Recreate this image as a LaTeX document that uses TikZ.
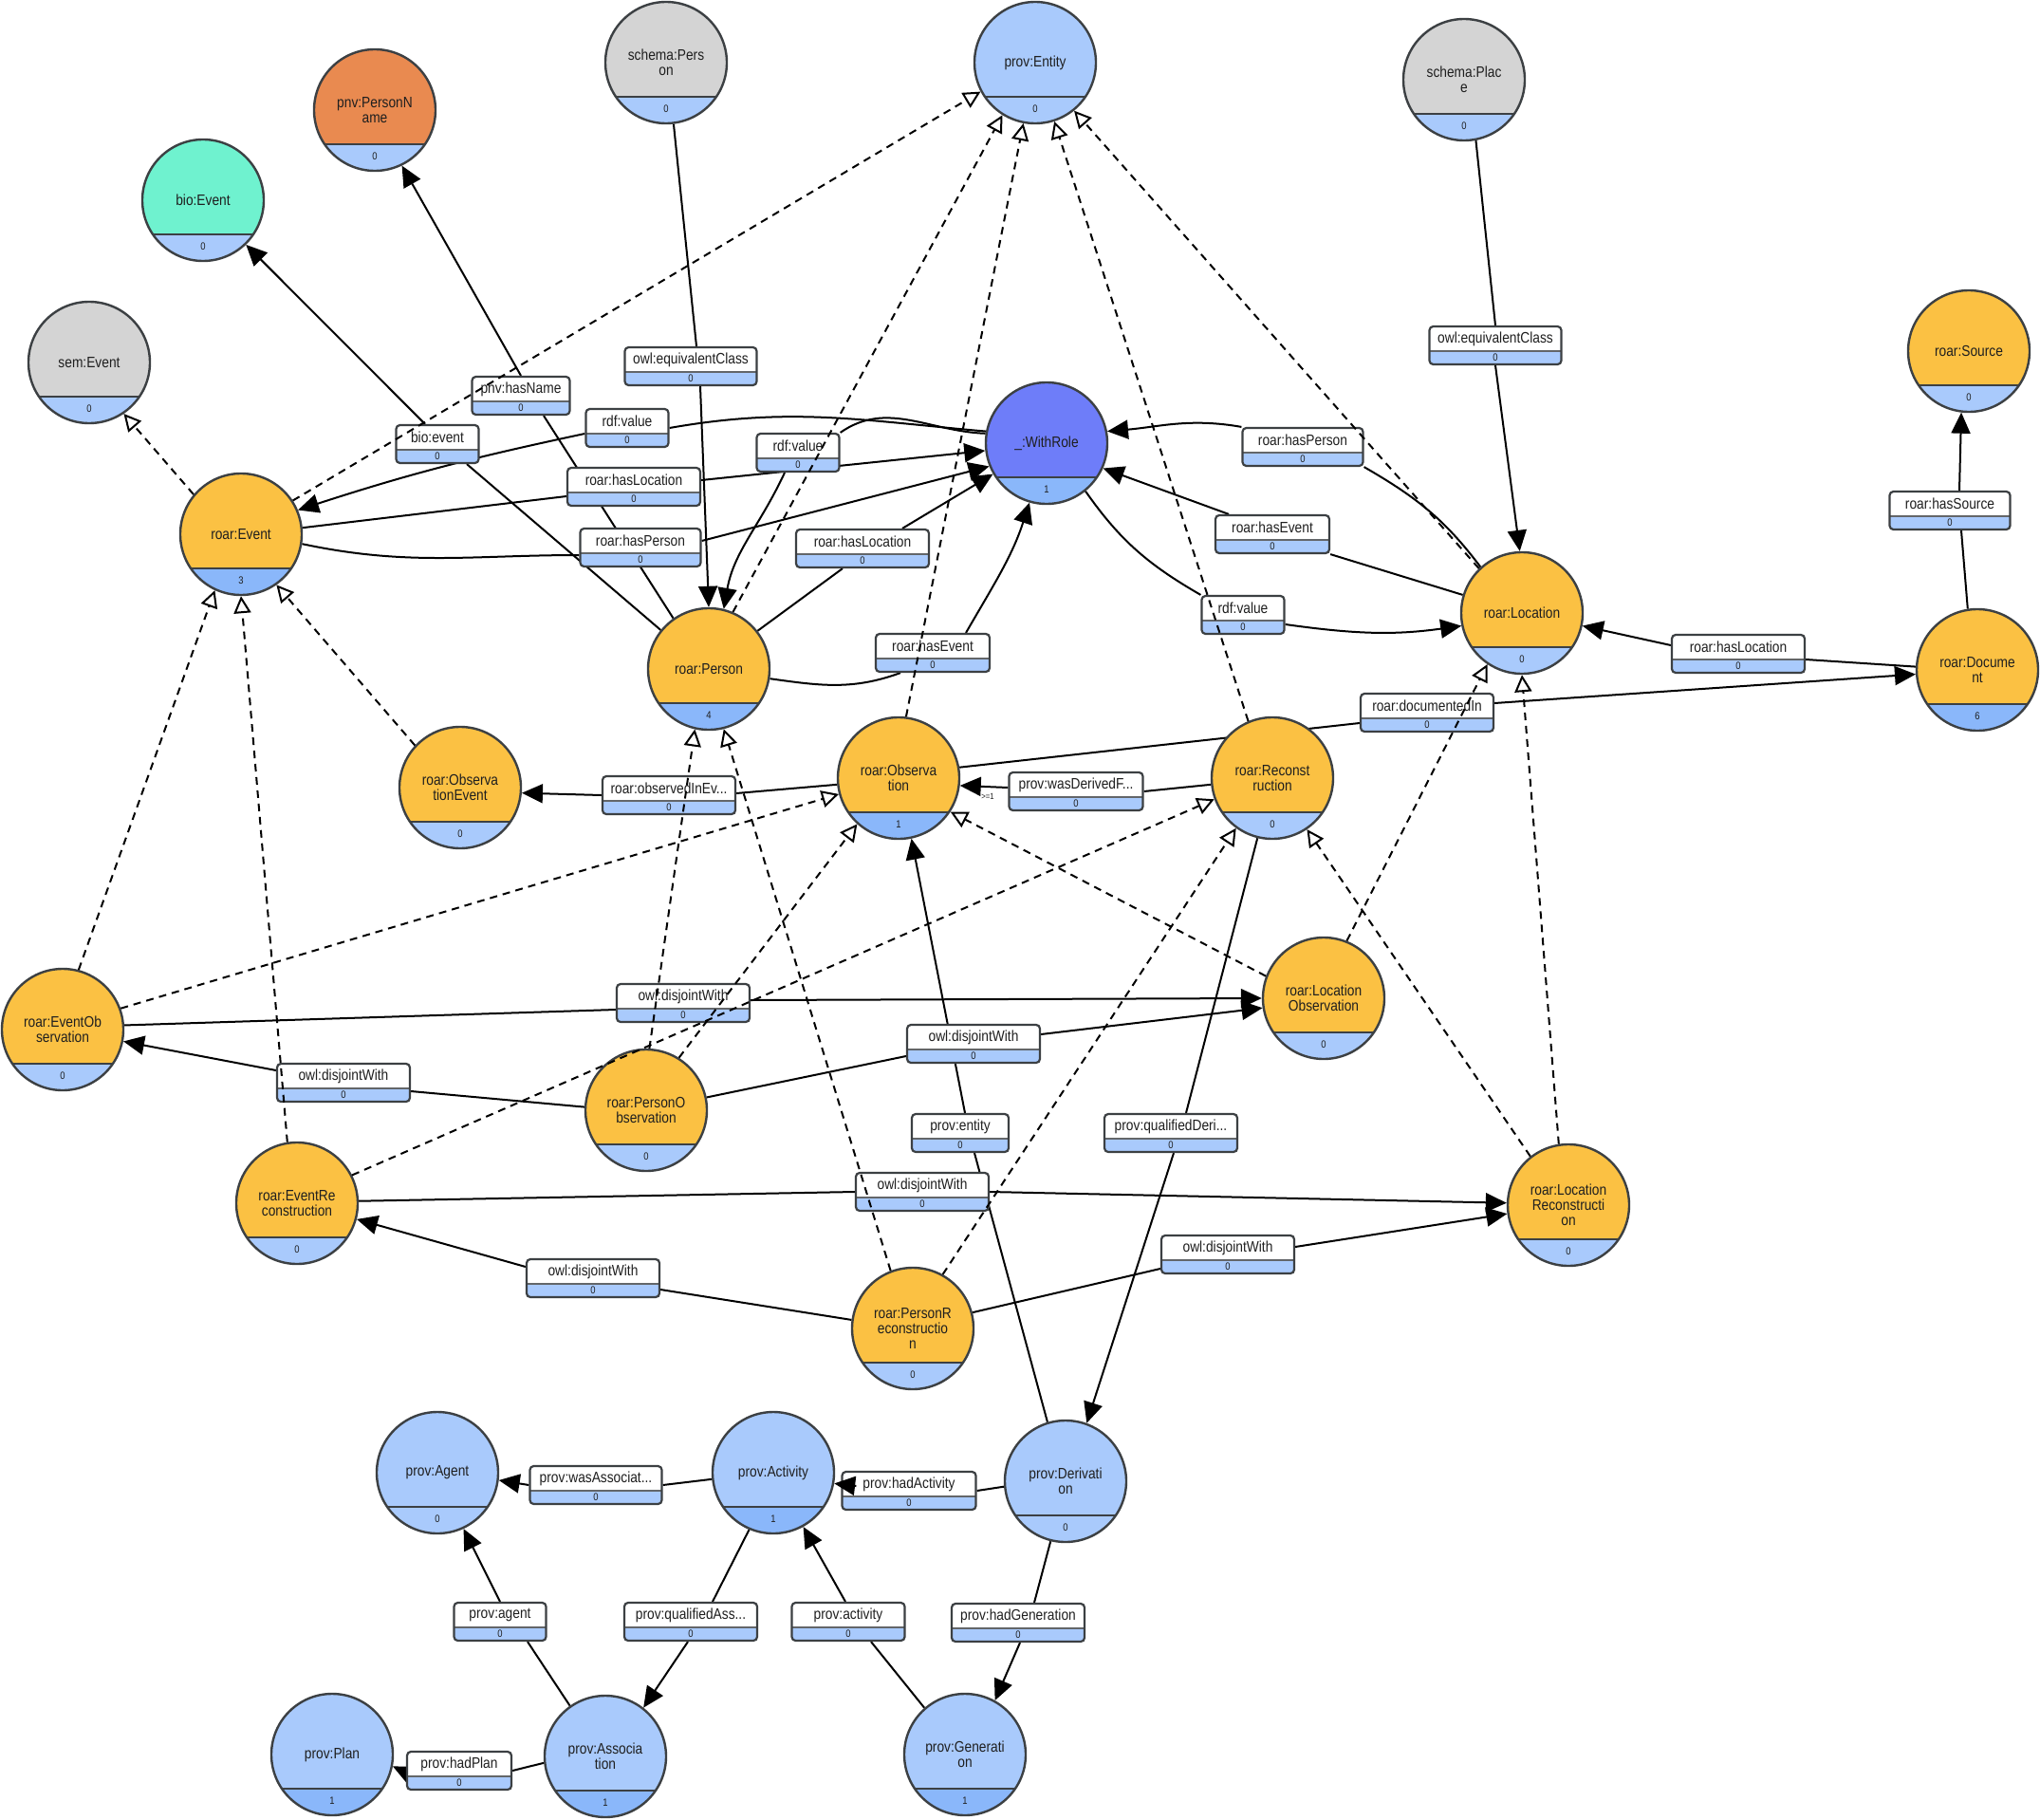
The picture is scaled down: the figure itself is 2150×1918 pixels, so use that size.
\documentclass[tikz,border=0pt]{standalone}
\usepackage{fontspec}
\setmainfont{Liberation Sans}[FakeStretch=0.86]
\usetikzlibrary{arrows.meta,calc}

\definecolor{ol}{HTML}{3C4043}
\definecolor{txt}{HTML}{1F1F1F}
\definecolor{cyellow}{HTML}{FBC143}
\definecolor{cblue}{HTML}{A9CAFC}
\definecolor{bandlight}{HTML}{A9CAFC}
\definecolor{banddark}{HTML}{8AB7FA}
\definecolor{corange}{HTML}{E98A50}
\definecolor{cteal}{HTML}{6FF2CF}
\definecolor{cgrey}{HTML}{D4D4D4}
\definecolor{cviolet}{HTML}{6E7DF9}

\newcommand\lblfont{\fontsize{16}{16}\selectfont}
\newcommand\cntfont{\fontsize{11}{11}\selectfont}

\pgfdeclarelayer{bg}
\pgfdeclarelayer{edgelayer}
\pgfdeclarelayer{toplayer}
\pgfsetlayers{bg,edgelayer,main,toplayer}

\tikzset{
  clsnode/.style={circle, minimum size=128pt, inner sep=0pt, draw=ol, line width=2.4pt,
    font=\lblfont, text=txt, align=center},
  propshape/.style={rectangle, rounded corners=4pt, draw=ol, line width=2.2pt, fill=white,
    minimum height=40pt, inner sep=0pt,
    path picture={\fill[bandlight] ([yshift=-6pt]path picture bounding box.center) ++(-100pt,0pt) rectangle ++(200pt,-20pt);
      \draw[ol!80, line width=1.4pt] ([yshift=-6pt]path picture bounding box.center) ++(-100pt,0pt) -- ++(200pt,0pt);}},
  solidedge/.style={line width=2pt, draw=black},
  arrowedge/.style={solidedge, -{Triangle[length=22pt,width=20pt]}},
  subedge/.style={line width=2pt, draw=black, dash pattern=on 8pt off 6pt,
    -{Triangle[length=18pt,width=18pt,fill=white]}},
}

% class circle: name, x, y, fill, band colour, label, count
\newcommand\classnode[7]{%
  \node[clsnode, fill=#4,
    path picture={\fill[#5] ([yshift=-36pt]path picture bounding box.center) ++(-70pt,0pt) rectangle ++(140pt,-40pt);
      \draw[ol, line width=1.6pt] ([yshift=-36pt]path picture bounding box.center) ++(-70pt,0pt) -- ++(140pt,0pt);}]
    (#1) at (#2,#3) {#6};
  \node[font=\cntfont, text=txt] at ([yshift=-49pt]#1.center) {#7};
}
% property box: name, x, y, width, label
\newcommand\propbox[5]{%
  \node[propshape, minimum width=#4pt] (#1) at (#2,#3) {};
  \node[font=\lblfont, text=txt] at ([yshift=7pt]#1.center) {#5};
  \node[font=\cntfont, text=txt] at ([yshift=-13pt]#1.center) {0};
}

\begin{document}
\begin{tikzpicture}[x=1pt,y=-1pt]
\begin{pgfonlayer}{bg}
  \fill[white] (0,0) rectangle (2150,1918);
\end{pgfonlayer}
\useasboundingbox (0,0) rectangle (2150,1918);

% ---------- classes ----------
\classnode{Entity}{1091}{66}{cblue}{bandlight}{prov:Entity}{0}
\classnode{SPerson}{702}{66}{cgrey}{bandlight}{schema:Pers\\on}{0}
\classnode{PName}{395}{116}{corange}{bandlight}{pnv:PersonN\\ame}{0}
\classnode{BioEvent}{214}{211}{cteal}{bandlight}{bio:Event}{0}
\classnode{SemEvent}{94}{382}{cgrey}{bandlight}{sem:Event}{0}
\classnode{SPlace}{1543}{84}{cgrey}{bandlight}{schema:Plac\\e}{0}
\classnode{Source}{2075}{370}{cyellow}{bandlight}{roar:Source}{0}
\classnode{WithRole}{1103}{467}{cviolet}{banddark}{\_:WithRole}{1}
\classnode{REvent}{254}{563}{cyellow}{banddark}{roar:Event}{3}
\classnode{RPerson}{747}{705}{cyellow}{banddark}{roar:Person}{4}
\classnode{RLocation}{1604}{646}{cyellow}{bandlight}{roar:Location}{0}
\classnode{RDocument}{2084}{706}{cyellow}{banddark}{roar:Docume\\nt}{6}
\classnode{RObsEvent}{485}{830}{cyellow}{bandlight}{roar:Observa\\tionEvent}{0}
\classnode{RObservation}{947}{820}{cyellow}{banddark}{roar:Observa\\tion}{1}
\classnode{RRecon}{1341}{820}{cyellow}{bandlight}{roar:Reconst\\ruction}{0}
\classnode{REventObs}{66}{1085}{cyellow}{bandlight}{roar:EventOb\\servation}{0}
\classnode{RLocObs}{1395}{1052}{cyellow}{bandlight}{roar:Location\\Observation}{0}
\classnode{RPersonObs}{681}{1170}{cyellow}{bandlight}{roar:PersonO\\bservation}{0}
\classnode{REventRecon}{313}{1268}{cyellow}{bandlight}{roar:EventRe\\construction}{0}
\classnode{RLocRecon}{1653}{1270}{cyellow}{bandlight}{roar:Location\\Reconstructi\\on}{0}
\classnode{RPersonRecon}{962}{1400}{cyellow}{bandlight}{roar:PersonR\\econstructio\\n}{0}
\classnode{Agent}{461}{1552}{cblue}{bandlight}{prov:Agent}{0}
\classnode{Activity}{815}{1552}{cblue}{banddark}{prov:Activity}{1}
\classnode{Derivation}{1123}{1561}{cblue}{bandlight}{prov:Derivati\\on}{0}
\classnode{Plan}{350}{1849}{cblue}{banddark}{prov:Plan}{1}
\classnode{Association}{638}{1851}{cblue}{banddark}{prov:Associa\\tion}{1}
\classnode{Generation}{1017}{1849}{cblue}{banddark}{prov:Generati\\on}{1}

% ---------- properties ----------
\propbox{B1}{728}{386}{139}{owl:equivalentClass}
\propbox{B2}{549}{417}{103}{pnv:hasName}
\propbox{B3}{461}{468}{87}{bio:event}
\propbox{B4}{661}{451}{87}{rdf:value}
\propbox{B5}{841}{477}{87}{rdf:value}
\propbox{B6}{668}{513}{140}{roar:hasLocation}
\propbox{B7}{675}{577}{127}{roar:hasPerson}
\propbox{B8}{909}{578}{140}{roar:hasLocation}
\propbox{B9}{983}{688}{120}{roar:hasEvent}
\propbox{B10}{1373}{471}{127}{roar:hasPerson}
\propbox{B11}{1341}{563}{120}{roar:hasEvent}
\propbox{B12}{1310}{648}{87}{rdf:value}
\propbox{B13}{1576}{364}{139}{owl:equivalentClass}
\propbox{B14}{2055}{538}{127}{roar:hasSource}
\propbox{B15}{1832}{689}{140}{roar:hasLocation}
\propbox{B16}{1504}{751}{140}{roar:documentedIn}
\propbox{B17}{705}{838}{140}{roar:observedInEv...}
\propbox{B18}{1134}{834}{141}{prov:wasDerivedF...}
\propbox{B19}{720}{1057}{140}{owl:disjointWith}
\propbox{B20}{362}{1141}{140}{owl:disjointWith}
\propbox{B21}{1026}{1100}{140}{owl:disjointWith}
\propbox{B22}{1012}{1194}{102}{prov:entity}
\propbox{B23}{1234}{1194}{140}{prov:qualifiedDeri...}
\propbox{B24}{972}{1256}{140}{owl:disjointWith}
\propbox{B25}{625}{1347}{140}{owl:disjointWith}
\propbox{B26}{1294}{1322}{140}{owl:disjointWith}
\propbox{B27}{628}{1565}{139}{prov:wasAssociat...}
\propbox{B28}{958}{1571}{141}{prov:hadActivity}
\propbox{B29}{527}{1709}{97}{prov:agent}
\propbox{B30}{728}{1709}{140}{prov:qualifiedAss...}
\propbox{B31}{894}{1709}{119}{prov:activity}
\propbox{B32}{1073}{1710}{140}{prov:hadGeneration}
\propbox{B33}{484}{1866}{110}{prov:hadPlan}

\node[font=\fontsize{9}{9}\selectfont, text=txt] (card) at (1041,839) {>=1};

% ---------- object properties ----------
\begin{pgfonlayer}{edgelayer}
  % rdf:value  _:WithRole -> roar:Event
  \draw[solidedge] (WithRole.169) to[out=175,in=10] (B4.east);
  \draw[arrowedge] ([yshift=-6pt]B4.west) to[out=192,in=18] (REvent.23);
  % rdf:value  _:WithRole -> roar:Person
  \draw[solidedge] (WithRole.171) to[out=178,in=35] (B5.north east);
  \draw[arrowedge] ([xshift=-14pt]B5.south) to[out=245,in=80] (RPerson.76);
  % roar:hasLocation  roar:Event -> _:WithRole
  \draw[solidedge] (REvent.6) -- ([yshift=-10pt]B6.west);
  \draw[arrowedge] ([yshift=7pt]B6.east) -- (WithRole.187);
  % roar:hasPerson  roar:Event -> _:WithRole
  \draw[solidedge] (REvent.-9) to[out=-12,in=180] ([yshift=-8pt]B7.west);
  \draw[arrowedge] ([yshift=7pt]B7.east) -- (WithRole.202);
  % roar:hasLocation  roar:Person -> _:WithRole
  \draw[solidedge] (RPerson.38) -- ([xshift=-21pt]B8.south);
  \draw[arrowedge] ([xshift=42pt]B8.north) -- (WithRole.210);
  % roar:hasEvent  roar:Person -> _:WithRole
  \draw[solidedge] (RPerson.-9) to[out=-8,in=200] ([xshift=-34pt]B9.south);
  \draw[arrowedge] ([xshift=35pt]B9.north) to[out=60,in=252] (WithRole.254);
  % roar:hasPerson  roar:Location -> _:WithRole
  \draw[solidedge] (RLocation.132) to[out=127,in=-30] (B10.south east);
  \draw[arrowedge] (B10.north west) to[out=170,in=5] (WithRole.11);
  % roar:hasEvent  roar:Location -> _:WithRole
  \draw[solidedge] (RLocation.163) -- (B11.south east);
  \draw[arrowedge] ([xshift=-46pt]B11.north) -- (WithRole.-24);
  % rdf:value  _:WithRole -> roar:Location
  \draw[solidedge] (WithRole.-51) to[out=-55,in=150] (B12.north west);
  \draw[arrowedge] ([yshift=-10pt]B12.east) to[out=-8,in=188] (RLocation.192);
  % bio:event  roar:Person -> bio:Event
  \draw[solidedge] (RPerson.141) -- ([xshift=31pt]B3.south);
  \draw[arrowedge] ([xshift=-13pt]B3.north) -- (BioEvent.-46);
  % pnv:hasName  roar:Person -> pnv:PersonName
  \draw[solidedge] (RPerson.125) -- ([xshift=24pt]B2.south);
  \draw[arrowedge] (B2.north) -- (PName.-64);
  % owl:equivalentClass  schema:Person -> roar:Person
  \draw[solidedge] (SPerson.-83) -- ([xshift=6pt]B1.north);
  \draw[arrowedge] ([xshift=10pt]B1.south) -- (RPerson.90);
  % owl:equivalentClass  schema:Place -> roar:Location
  \draw[solidedge] (SPlace.-79) -- (B13.north);
  \draw[arrowedge] (B13.south) -- (RLocation.92);
  % roar:hasSource  roar:Document -> roar:Source
  \draw[solidedge] (RDocument.99) -- ([xshift=12pt]B14.south);
  \draw[arrowedge] ([xshift=10pt]B14.north) -- (Source.-97);
  % roar:hasLocation  roar:Document -> roar:Location
  \draw[solidedge] (RDocument.177) -- ([yshift=-6pt]B15.east);
  \draw[arrowedge] ([yshift=9pt]B15.west) -- (RLocation.-12);
  % roar:documentedIn  roar:Observation -> roar:Document
  \draw[solidedge] (RObservation.10) -- ([yshift=-11pt]B16.west);
  \draw[arrowedge] ([yshift=10pt]B16.east) -- (RDocument.184);
  % roar:observedInEvent  roar:Observation -> roar:ObservationEvent
  \draw[solidedge] (RObservation.186) -- ([yshift=2pt]B17.east);
  \draw[arrowedge] (B17.west) -- (RObsEvent.-5);
  % prov:wasDerivedFrom  roar:Reconstruction -> roar:Observation
  \draw[solidedge] (RRecon.186) -- (B18.east);
  \draw[arrowedge] ([yshift=4pt]B18.west) -- (RObservation.-7);
  % owl:disjointWith
  \draw[solidedge] (REventObs.4) -- ([yshift=-7pt]B19.west);
  \draw[arrowedge] ([yshift=3pt]B19.east) -- (RLocObs.180);
  \draw[solidedge] (RPersonObs.177) -- ([yshift=-9pt]B20.east);
  \draw[arrowedge] ([yshift=13pt]B20.west) -- (REventObs.-11);
  \draw[solidedge] (RPersonObs.12) -- ([yshift=-13pt]B21.west);
  \draw[arrowedge] ([yshift=10pt]B21.east) -- (RLocObs.189);
  \draw[solidedge] (REventRecon.2) -- (B24.west);
  \draw[arrowedge] (B24.east) -- (RLocRecon.178);
  \draw[solidedge] (RPersonRecon.172) -- ([yshift=-12pt]B25.east);
  \draw[arrowedge] ([yshift=12pt]B25.west) -- (REventRecon.-15);
  \draw[solidedge] (RPersonRecon.15) -- ([yshift=-15pt]B26.west);
  \draw[arrowedge] ([yshift=8pt]B26.east) -- (RLocRecon.188);
  % prov:entity  prov:Derivation -> roar:Observation
  \draw[solidedge] (Derivation.107) -- ([xshift=15pt]B22.south);
  \draw[arrowedge] ([xshift=5pt]B22.north) -- (RObservation.-78);
  % prov:qualifiedDerivation  roar:Reconstruction -> prov:Derivation
  \draw[solidedge] (RRecon.256) -- ([xshift=16pt]B23.north);
  \draw[arrowedge] ([xshift=3pt]B23.south) -- (Derivation.70);
  % prov:wasAssociatedWith  prov:Activity -> prov:Agent
  \draw[solidedge] (Activity.186) -- (B27.east);
  \draw[arrowedge] (B27.west) -- (Agent.-7);
  % prov:hadActivity  prov:Derivation -> prov:Activity
  \draw[solidedge] (Derivation.185) -- (B28.east);
  % prov:agent  prov:Association -> prov:Agent
  \draw[solidedge] (Association.125) -- ([xshift=29pt]B29.south);
  \draw[arrowedge] (B29.north) -- (Agent.-65);
  % prov:qualifiedAssociation  prov:Activity -> prov:Association
  \draw[solidedge] (Activity.247) -- ([xshift=23pt]B30.north);
  \draw[arrowedge] ([xshift=-3pt]B30.south) -- (Association.52);
  % prov:activity  prov:Generation -> prov:Activity
  \draw[solidedge] (Generation.131) -- ([xshift=24pt]B31.south);
  \draw[arrowedge] ([xshift=-3pt]B31.north) -- (Activity.-61);
  % prov:hadGeneration  prov:Derivation -> prov:Generation
  \draw[solidedge] (Derivation.256) -- ([xshift=17pt]B32.north);
  \draw[arrowedge] ([xshift=2pt]B32.south) -- (Generation.61);
  % prov:hadPlan  prov:Association -> prov:Plan
  \draw[solidedge] (Association.186) -- (B33.east);
  \draw[arrowedge] ([yshift=-2pt]B33.west) -- (Plan.-11);
\end{pgfonlayer}

% ---------- subclass links ----------
\begin{pgfonlayer}{toplayer}
  \draw[arrowedge] ([xshift=16pt,yshift=5pt]B28.west) -- (Activity.-10);
  \draw[subedge] (REvent.140) -- (SemEvent.-56);
  \draw[subedge] (REvent.33) -- (Entity.208);
  \draw[subedge] (RPerson.67) -- (Entity.238);
  \draw[subedge] (RObservation.83) -- (Entity.259);
  \draw[subedge] (RRecon.113) -- (Entity.-72);
  \draw[subedge] (RLocation.134) -- (Entity.-51);
  \draw[subedge] (REventObs.75) -- (REvent.245);
  \draw[subedge] (REventRecon.99) -- (REvent.270);
  \draw[subedge] (RObsEvent.137) -- (REvent.-55);
  \draw[subedge] (RPersonObs.87) -- (RPerson.257);
  \draw[subedge] (RPersonRecon.111) -- (RPerson.-76);
  \draw[subedge] (REventObs.20) -- (RObservation.195);
  \draw[subedge] (RPersonObs.58) -- (RObservation.228);
  \draw[subedge] (RLocObs.159) -- (RObservation.-33);
  \draw[subedge] (REventRecon.27) -- (RRecon.200);
  \draw[subedge] (RPersonRecon.61) -- (RRecon.234);
  \draw[subedge] (RLocRecon.128) -- (RRecon.-56);
  \draw[subedge] (RLocObs.68) -- (RLocation.236);
  \draw[subedge] (RLocRecon.99) -- (RLocation.270);
\end{pgfonlayer}
\end{tikzpicture}
\end{document}
